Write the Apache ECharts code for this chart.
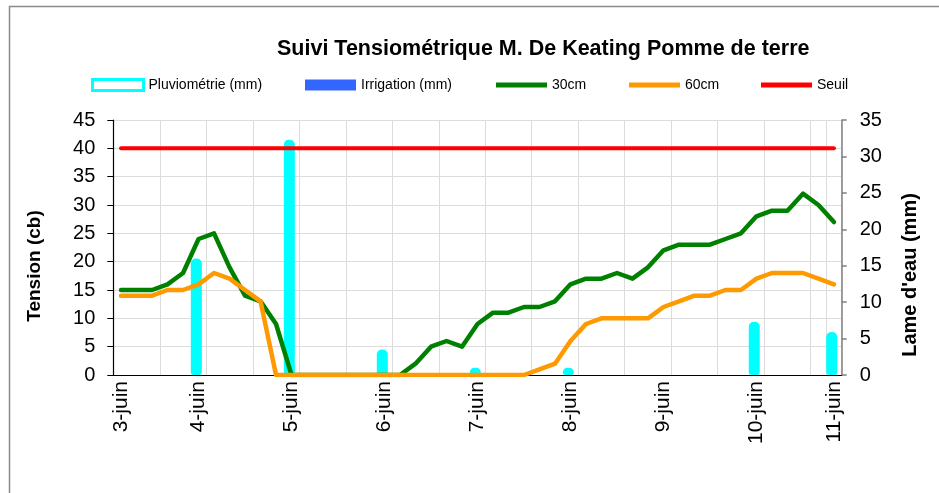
<!DOCTYPE html>
<html>
<head>
<meta charset="utf-8">
<script src="https://cdn.jsdelivr.net/npm/echarts@6/dist/echarts.min.js"></script>
<style>html,body{margin:0;padding:0;background:#fff}#c{width:939px;height:493px}</style>
</head>
<body>
<div id="c"></div>
<script>
// 47 readings; labels only where a new day starts
const categories = [
  '3-juin','','','','','4-juin','','','','','','5-juin','','','','','','6-juin','','','','','','7-juin',
  '','','','','','8-juin','','','','','','9-juin','','','','','','10-juin','','','','','11-juin'
];
const pluvio = [null,null,null,null,null,16,null,null,null,null,null,32.3,null,null,null,null,null,3.5,null,null,null,null,null,1,
  null,null,null,null,null,1,null,null,null,null,null,null,null,null,null,null,null,7.3,null,null,null,null,5.9];
const irrigation = new Array(47).fill(null);
const t30 = [15,15,15,16,18,24,25,19,14,13,9,0,0,0,0,0,0,0,0,2,5,6,5,9,11,11,12,12,13,16,17,17,18,17,19,22,23,23,23,24,25,28,29,29,32,30,27];
const t60 = [14,14,14,15,15,16,18,17,15,13,0,0,0,0,0,0,0,0,0,0,0,0,0,0,0,0,0,1,2,6,9,10,10,10,10,12,13,14,14,15,15,17,18,18,18,17,16];
const seuil = new Array(47).fill(40);
const leftTicks = {min:0, max:45, interval:5};
const rightTicks = {min:0, max:35, interval:5};

const chart = echarts.init(document.getElementById('c'), null, {renderer:'canvas'});
const FONT = 'Liberation Sans, Arial, sans-serif';
function leg(name, left, h, style){
  return {data:[name], left:left, top:73, itemWidth:51, itemHeight:h, icon:'rect',
    itemStyle:style, textStyle:{fontFamily:FONT, fontSize:14, color:'#000'}, selectedMode:false};
}
chart.setOption({
  animation:false,
  title:{text:'Suivi Tensiométrique M. De Keating Pomme de terre', left:272, top:33,
    textStyle:{fontFamily:FONT, fontSize:21.5, fontWeight:'bold', color:'#000'}},
  legend:[
    leg('Pluviométrie (mm)', 86, 11, {color:'#fff', borderColor:'#00ffff', borderWidth:3}),
    leg('Irrigation (mm)', 300, 11, {color:'#3366ff'}),
    leg('30cm', 491, 5, {color:'#008000'}),
    leg('60cm', 624, 5, {color:'#ff9900'}),
    leg('Seuil', 756, 5, {color:'#ff0000'})
  ],
  grid:{left:113.3, right:97.3, top:120, bottom:118, containLabel:false},
  xAxis:{type:'category', data:categories, boundaryGap:true,
    axisLine:{lineStyle:{color:'#000', width:1.2}},
    axisTick:{interval:2, length:5, lineStyle:{color:'#999'}},
    splitLine:{show:true, interval:2, lineStyle:{color:'#dcdcdc', width:1}},
    axisLabel:{interval:0, rotate:90, margin:6, fontFamily:FONT, fontSize:21, color:'#000'}},
  yAxis:[
    {type:'value', min:leftTicks.min, max:leftTicks.max, interval:leftTicks.interval,
      axisLine:{show:true, lineStyle:{color:'#000', width:1.2}},
      axisTick:{show:true, length:6, lineStyle:{color:'#000'}},
      splitLine:{show:true, lineStyle:{color:'#dcdcdc', width:1}},
      axisLabel:{margin:18, fontFamily:FONT, fontSize:20, color:'#000'}},
    {type:'value', min:rightTicks.min, max:rightTicks.max, interval:rightTicks.interval, position:'right',
      axisLine:{show:true, lineStyle:{color:'#808080', width:1.5}},
      axisTick:{show:true, length:5, lineStyle:{color:'#808080', width:1.5}},
      splitLine:{show:false},
      axisLabel:{margin:18, fontFamily:FONT, fontSize:20, color:'#000'}}
  ],
  graphic:[
    {type:'rect', shape:{x:9.5, y:6.5, width:1000, height:600}, style:{fill:'none', stroke:'#8a8a8a', lineWidth:1.5}, silent:true},
    {type:'text', x:35, y:266, rotation:Math.PI/2,
      style:{text:'Tension (cb)', font:'bold 19px '+FONT, fill:'#000', textAlign:'center', textVerticalAlign:'middle'}},
    {type:'text', x:910, y:275, rotation:Math.PI/2,
      style:{text:"Lame d'eau (mm)", font:'bold 20px '+FONT, fill:'#000', textAlign:'center', textVerticalAlign:'middle'}}
  ],
  series:[
    {name:'Pluviométrie (mm)', type:'bar', yAxisIndex:1, data:pluvio, barWidth:11, barGap:'-60%',
      itemStyle:{color:'#00ffff', borderRadius:[5,5,3,3]}},
    {name:'Irrigation (mm)', type:'bar', yAxisIndex:1, data:irrigation, barWidth:11,
      itemStyle:{color:'#3366ff'}},
    {name:'30cm', type:'line', data:t30, symbol:'none', color:'#008000',
      lineStyle:{width:4.5, color:'#008000', cap:'round', join:'round'}},
    {name:'60cm', type:'line', data:t60, symbol:'none', color:'#ff9900',
      lineStyle:{width:4.5, color:'#ff9900', cap:'round', join:'round'}},
    {name:'Seuil', type:'line', data:seuil, symbol:'none', color:'#ff0000',
      lineStyle:{width:4, color:'#ff0000', cap:'round', join:'round'}}
  ]
});
</script>
</body>
</html>
